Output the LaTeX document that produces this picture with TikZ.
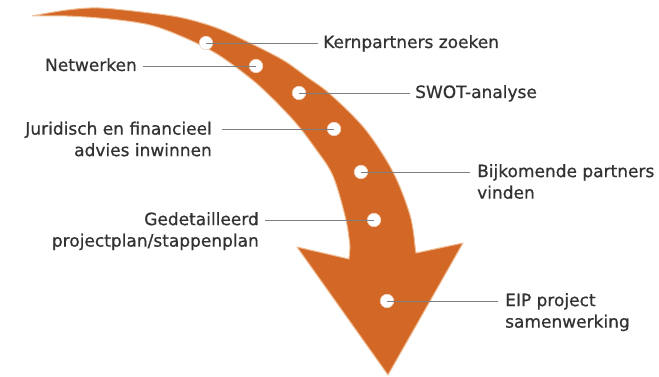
\documentclass[tikz,border=0pt]{standalone}
\usepackage{fontspec}
\setmainfont{DejaVu Sans}
\newfontfamily\lblfont{DejaVu Sans}[FakeBold=0.7]
\definecolor{arrowc}{RGB}{211,104,38}
\definecolor{halo}{RGB}{240,190,150}
\definecolor{txt}{RGB}{50,50,50}
\definecolor{leader}{RGB}{125,125,130}
\begin{document}
\begin{tikzpicture}[x=1pt,y=-1pt,
  dot/.style={circle,fill=white,draw=white!70!arrowc,line width=0.6pt,minimum size=13.5pt,inner sep=0pt},
  lbl/.style={text=txt,inner sep=0pt,font=\lblfont\fontsize{17}{21.5}\selectfont},
  lead/.style={draw=leader,line width=0.8pt}]
\fill[white] (0,0) rectangle (659,377);
\useasboundingbox (0,0) rectangle (659,377);
% arrow
\fill[arrowc,draw=halo,line width=1pt,line join=round]
  plot[smooth,tension=0.55] coordinates {(32,16) (67,10) (100,8) (150,13) (183,18) (217,28) (250,43) (283,60) (307,77) (330,94) (365,129) (393,172) (410,215) (415,246)}
  -- (416,253) -- (463,243) -- (388,375) -- (297,247) -- (349,259)
  -- plot[smooth,tension=0.55] coordinates {(350,247) (346,220) (333,176) (315,148) (295,122) (270,96) (250,78) (217,54) (183,37) (150,25) (110,19) (67,16) (32,16)}
  -- cycle;
% dots
\node[dot] (d1) at (206,43) {};
\node[dot] (d2) at (256,66) {};
\node[dot] (d3) at (299,93) {};
\node[dot] (d4) at (334,129) {};
\node[dot] (d5) at (361,172) {};
\node[dot] (d6) at (374,220) {};
\node[dot] (d7) at (387,301) {};
% labels
\node[lbl,anchor=base west] (l1) at (323,48) {Kernpartners zoeken};
\node[lbl,anchor=base east] (l2) at (137,71) {Netwerken};
\node[lbl,anchor=base west] (l3) at (415,98) {SWOT-analyse};
\node[lbl,anchor=north east,align=right] (l4) at (212,121.5) {Juridisch en financieel\\advies inwinnen};
\node[lbl,anchor=north west,align=left] (l5) at (477,164) {Bijkomende partners\\vinden};
\node[lbl,anchor=north east,align=right] (l6) at (259,212) {Gedetailleerd\\projectplan/stappenplan};
\node[lbl,anchor=north west,align=left] (l7) at (505,293) {EIP project\\samenwerking};
% leaders
\coordinate (e1) at (318,43);
\coordinate (e2) at (143,66);
\coordinate (e3) at (410,93);
\coordinate (e4) at (222,129);
\coordinate (e5) at (470,172);
\coordinate (e6) at (265,220);
\coordinate (e7) at (498,301);
\draw[lead] (d1.center) -- (e1);
\draw[lead] (e2) -- (d2.center);
\draw[lead] (d3.center) -- (e3);
\draw[lead] (e4) -- (d4.center);
\draw[lead] (d5.center) -- (e5);
\draw[lead] (e6) -- (d6.center);
\draw[lead] (d7.center) -- (e7);
\end{tikzpicture}
\end{document}
